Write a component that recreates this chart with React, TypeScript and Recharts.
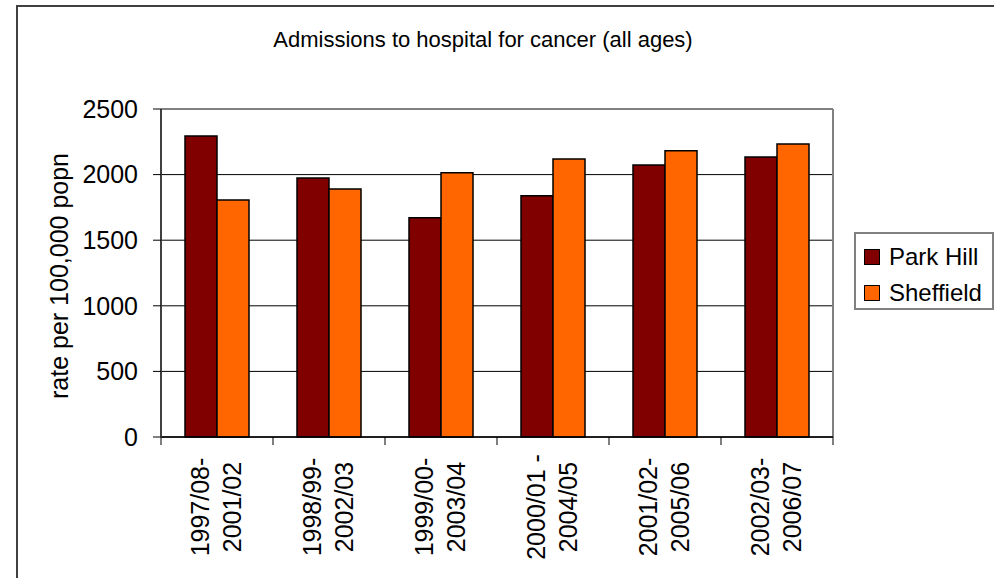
import { BarChart, Bar, XAxis, YAxis, CartesianGrid, Legend } from "recharts"

const startLabels = ["1997/08-", "1998/99-", "1999/00-", "2000/01 -", "2001/02-", "2002/03-"]
const endLabels = ["2001/02", "2002/03", "2003/04", "2004/05", "2005/06", "2006/07"]
const parkHill = [2294, 1974, 1671, 1839, 2073, 2134]
const sheffield = [1806, 1890, 2015, 2119, 2182, 2233]
const yTicks = [0, 500, 1000, 1500, 2000, 2500]

const data = startLabels.map((s, i) => ({
  name: s + "|" + endLabels[i],
  parkHill: parkHill[i],
  sheffield: sheffield[i],
}))

const FONT = "'Liberation Sans', Arial, sans-serif"

const PeriodTick = (props: any) => {
  const { x, y, payload, index, width, visibleTicksCount } = props
  const band = width / visibleTicksCount
  const [a, b] = String(payload.value).split("|")
  const left = x - band / 2
  return (
    <g>
      <line x1={left} y1={y} x2={left} y2={y + 8} stroke="#000" />
      {index === visibleTicksCount - 1 && (
        <line x1={x + band / 2} y1={y} x2={x + band / 2} y2={y + 8} stroke="#000" />
      )}
      <text
        transform={`translate(${x},${y + 70}) rotate(-90)`}
        textAnchor="middle"
        fontFamily={FONT}
        fontSize={25}
        fill="#000"
      >
        <tspan x={0} y={-8}>{a}</tspan>
        <tspan x={0} y={24}>{b}</tspan>
      </text>
    </g>
  )
}

const LegendBox = () => (
  <div
    style={{
      border: "2px solid #808080",
      boxSizing: "border-box",
      width: 140,
      height: 78,
      padding: "8px 0 0 8px",
      fontFamily: FONT,
      fontSize: 24,
      color: "#000",
      background: "#fff",
    }}
  >
    {[
      { label: "Park Hill", color: "#800000" },
      { label: "Sheffield", color: "#FF6600" },
    ].map((it) => (
      <div key={it.label} style={{ display: "flex", alignItems: "center", height: 30, marginBottom: 6 }}>
        <span
          style={{
            display: "inline-block",
            width: 14,
            height: 14,
            background: it.color,
            border: "1px solid #000",
            marginRight: 9,
          }}
        />
        <span>{it.label}</span>
      </div>
    ))}
  </div>
)

export default function App() {
  return (
    <div style={{ position: "fixed", left: 0, top: 0, width: 994, height: 578, background: "#fff", overflow: "hidden" }}>
      <div
        style={{
          position: "absolute",
          left: 16,
          top: 5,
          width: 1000,
          height: 600,
          border: "2px solid #404040",
          boxSizing: "border-box",
        }}
      />
      <div
        style={{
          position: "absolute",
          left: 0,
          top: 29,
          width: 966,
          textAlign: "center",
          fontFamily: FONT,
          fontSize: 22,
          lineHeight: "22px",
          color: "#000",
        }}
      >
        Admissions to hospital for cancer (all ages)
      </div>
      <BarChart
        width={994}
        height={578}
        data={data}
        margin={{ top: 109, right: 161, bottom: 41, left: 101 }}
        barCategoryGap={24}
        barGap={0}
        style={{ position: "absolute", left: 0, top: 0 }}
      >
        <CartesianGrid vertical={false} stroke="#000" strokeWidth={1} />
        <CartesianGrid
          stroke="#808080"
          strokeWidth={2}
          horizontalCoordinatesGenerator={({ offset }: any) => [offset.top]}
          verticalCoordinatesGenerator={({ offset }: any) => [offset.left + offset.width]}
        />
        <XAxis
          dataKey="name"
          height={100}
          interval={0}
          tickLine={false}
          tickSize={0}
          tickMargin={0}
          axisLine={{ stroke: "#000", strokeWidth: 1.5 }}
          tick={<PeriodTick />}
        />
        <YAxis
          width={60}
          domain={[0, 2500]}
          ticks={yTicks}
          interval={0}
          tickSize={8}
          tickMargin={15}
          axisLine={{ stroke: "#404040", strokeWidth: 2 }}
          tickLine={{ stroke: "#000" }}
          tick={{ fontFamily: FONT, fontSize: 25, fill: "#000" }}
          label={{
            content: () => (
              <text
                x={68}
                y={276}
                transform="rotate(-90 68 276)"
                textAnchor="middle"
                fontFamily={FONT}
                fontSize={25}
                fill="#000"
              >
                rate per 100,000 popn
              </text>
            ),
          }}
        />
        <Legend
          layout="horizontal"
          align="center"
          verticalAlign="middle"
          wrapperStyle={{ left: 854, top: 232, width: 140 }}
          content={() => <LegendBox />}
        />
        <Bar dataKey="parkHill" name="Park Hill" fill="#800000" stroke="#000" strokeWidth={1.5} isAnimationActive={false} />
        <Bar dataKey="sheffield" name="Sheffield" fill="#FF6600" stroke="#000" strokeWidth={1.5} isAnimationActive={false} />
      </BarChart>
    </div>
  )
}
